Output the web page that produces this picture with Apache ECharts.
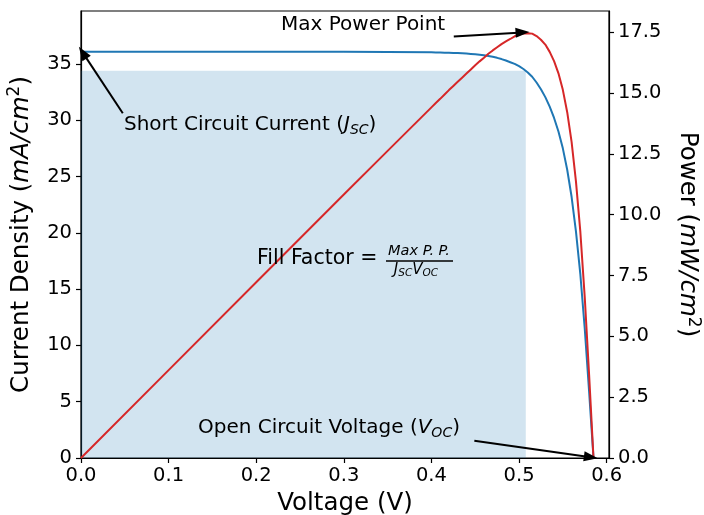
<!DOCTYPE html>
<html>
<head>
<meta charset="utf-8">
<script src="https://cdn.jsdelivr.net/npm/echarts@6/dist/echarts.min.js"></script>
<style>
html,body{margin:0;padding:0;background:#fff;}
#chart{width:704px;height:515px;}
</style>
</head>
<body>
<div id="chart"></div>
<script>
// ---- data ----
const voltage = [0, 0.1, 0.2, 0.3, 0.35, 0.40, 0.405, 0.41, 0.415, 0.42, 0.425, 0.43, 0.435, 0.44, 0.445, 0.45, 0.455, 0.46, 0.465, 0.47, 0.475, 0.48, 0.485, 0.49, 0.495, 0.50, 0.505, 0.51, 0.515, 0.52, 0.525, 0.53, 0.535, 0.54, 0.545, 0.55, 0.555, 0.56, 0.565, 0.57, 0.575, 0.58, 0.585];
const currentDensity = [36.09, 36.09, 36.09, 36.08, 36.06, 36.03, 36.02, 36.01, 36.00, 35.99, 35.98, 35.96, 35.94, 35.92, 35.89, 35.86, 35.82, 35.77, 35.71, 35.63, 35.54, 35.43, 35.30, 35.15, 35.00, 34.80, 34.55, 34.24, 33.86, 33.35, 32.75, 32.05, 31.20, 30.20, 29.00, 27.50, 25.60, 23.20, 20.10, 16.30, 11.50, 5.90, 0];
const power = [0, 3.61, 7.22, 10.83, 12.62, 14.41, 14.59, 14.76, 14.94, 15.12, 15.29, 15.46, 15.63, 15.80, 15.97, 16.14, 16.30, 16.45, 16.61, 16.75, 16.88, 17.01, 17.12, 17.22, 17.33, 17.40, 17.45, 17.46, 17.44, 17.34, 17.19, 16.99, 16.69, 16.31, 15.81, 15.13, 14.21, 12.99, 11.36, 9.29, 6.61, 3.42, 0];
const mppVoltage = 0.5077;
const mppCurrent = 34.4;
const xTicks = [0, 0.1, 0.2, 0.3, 0.4, 0.5, 0.6];
const currentTicks = [0, 5, 10, 15, 20, 25, 30, 35];
const powerTicks = [0, 2.5, 5, 7.5, 10, 12.5, 15, 17.5];
const xMax = 0.6027, currentMax = 39.7, powerMax = 18.37;
// annotation arrows (tail, head) in data units
const arrowJsc = [[0.0477, 30.62], [0.002, 36.0]];
const arrowVoc = [[0.449, 1.53], [0.582, 0.07]];
const arrowMpp = [[0.4255, 17.32], [0.504, 17.49]];

const FONT = 'DejaVu Sans';
const chart = echarts.init(document.getElementById('chart'), null, {renderer: 'canvas'});
const pairs = (ys) => voltage.map((v, i) => [v, ys[i]]);

const arrowStyle = {
  silent: true,
  symbol: ['none', 'triangle'],
  symbolSize: [10, 14],
  label: {show: false},
  lineStyle: {color: '#000', width: 2, type: 'solid'},
  emphasis: {disabled: true}
};
const mkArrow = (a) => [{coord: a[0]}, {coord: a[1]}];

const axisCommon = {
  type: 'value',
  splitLine: {show: false},
  axisLine: {show: true, onZero: false, lineStyle: {color: '#000', width: 1.2}},
  axisTick: {show: true, length: 5, inside: false, lineStyle: {color: '#000', width: 1.2}},
};

const option = {
  animation: false,
  backgroundColor: '#fff',
  grid: {left: 81, right: 95, top: 11, bottom: 57, containLabel: false, outerBoundsMode: 'none',
         show: true, borderColor: '#000', borderWidth: 1.2, backgroundColor: 'transparent'},
  xAxis: Object.assign({}, axisCommon, {
    min: 0, max: xMax,
    name: 'Voltage (V)', nameLocation: 'middle', nameGap: 29,
    nameTextStyle: {fontFamily: FONT, fontSize: 24.5, color: '#000'},
    axisTick: Object.assign({}, axisCommon.axisTick, {customValues: xTicks}),
    axisLabel: {customValues: xTicks, formatter: v => v.toFixed(1), fontFamily: FONT, fontSize: 19.5, color: '#000', margin: 8}
  }),
  yAxis: [
    Object.assign({}, axisCommon, {
      min: 0, max: currentMax, position: 'left',
      name: 'Current Density ({i|mA/cm}{sup|2})', nameLocation: 'middle', nameGap: 30,
      nameTextStyle: {fontFamily: FONT, fontSize: 24.5, color: '#000', lineHeight: 30,
        rich: {i: {fontFamily: FONT, fontSize: 24.5, fontStyle: 'italic', color: '#000', lineHeight: 30},
               sup: {fontFamily: FONT, fontSize: 17, color: '#000', verticalAlign: 'top', lineHeight: 17}}},
      axisTick: Object.assign({}, axisCommon.axisTick, {customValues: currentTicks}),
      axisLabel: {customValues: currentTicks, formatter: v => String(v), fontFamily: FONT, fontSize: 19.5, color: '#000', margin: 9}
    }),
    Object.assign({}, axisCommon, {
      min: 0, max: powerMax, position: 'right',
      name: 'Power ({i|mW/cm}{sup|2})', nameLocation: 'middle', nameGap: 62, nameRotate: -90,
      nameTextStyle: {fontFamily: FONT, fontSize: 24.5, color: '#000', lineHeight: 30,
        rich: {i: {fontFamily: FONT, fontSize: 24.5, fontStyle: 'italic', color: '#000', lineHeight: 30},
               sup: {fontFamily: FONT, fontSize: 17, color: '#000', verticalAlign: 'top', lineHeight: 17}}},
      axisTick: Object.assign({}, axisCommon.axisTick, {customValues: powerTicks}),
      axisLabel: {customValues: powerTicks, formatter: v => v.toFixed(1), fontFamily: FONT, fontSize: 19.5, color: '#000', margin: 9}
    })
  ],
  series: [
    {
      name: 'Current Density', type: 'line', yAxisIndex: 0, data: pairs(currentDensity),
      showSymbol: false, symbol: 'none', smooth: false,
      lineStyle: {color: '#1f77b4', width: 2}, z: 3,
      markArea: {silent: true, itemStyle: {color: 'rgba(31,119,180,0.2)'},
        data: [[{coord: [0, 0]}, {coord: [mppVoltage, mppCurrent]}]]},
      markLine: Object.assign({}, arrowStyle, {data: [mkArrow(arrowJsc), mkArrow(arrowVoc)], z: 10})
    },
    {
      name: 'Power', type: 'line', yAxisIndex: 1, data: pairs(power),
      showSymbol: false, symbol: 'none', smooth: false,
      lineStyle: {color: '#d62728', width: 2}, z: 4,
      markLine: Object.assign({}, arrowStyle, {data: [mkArrow(arrowMpp)], z: 10})
    }
  ],
  graphic: [
    {type: 'text', z: 100, style: {x: 281, y: 25, text: 'Max Power Point', fontFamily: FONT, fontSize: 20, fill: '#000', verticalAlign: 'middle'}},
    {type: 'text', z: 100, style: {x: 124, y: 125, text: 'Short Circuit Current ({i|J}{sub|SC})', fontFamily: FONT, fontSize: 20, fill: '#000', verticalAlign: 'middle', lineHeight: 24,
      rich: {i: {fontFamily: FONT, fontSize: 20, fontStyle: 'italic', fill: '#000', lineHeight: 24}, sub: {fontFamily: FONT, fontSize: 14, fontStyle: 'italic', fill: '#000', verticalAlign: 'bottom', lineHeight: 14}}}},
    {type: 'text', z: 100, style: {x: 198, y: 428, text: 'Open Circuit Voltage ({i|V}{sub|OC})', fontFamily: FONT, fontSize: 20, fill: '#000', verticalAlign: 'middle', lineHeight: 24,
      rich: {i: {fontFamily: FONT, fontSize: 20, fontStyle: 'italic', fill: '#000', lineHeight: 24}, sub: {fontFamily: FONT, fontSize: 14, fontStyle: 'italic', fill: '#000', verticalAlign: 'bottom', lineHeight: 14}}}},
    {type: 'text', z: 100, style: {x: 257, y: 259, text: 'Fill Factor =', fontFamily: FONT, fontSize: 20.5, fill: '#000', verticalAlign: 'middle'}},
    {type: 'text', z: 100, style: {x: 419, y: 251, text: 'Max P. P.', fontFamily: FONT, fontSize: 14.5, fontStyle: 'italic', fill: '#000', align: 'center', verticalAlign: 'middle'}},
    {type: 'line', z: 100, shape: {x1: 386, y1: 261, x2: 453, y2: 261}, style: {stroke: '#000', lineWidth: 1.3}},
    {type: 'text', z: 100, style: {x: 416, y: 270, text: '{i|J}{sub|SC}{i|V}{sub|OC}', fontFamily: FONT, fontSize: 15, fill: '#000', align: 'center', verticalAlign: 'middle', lineHeight: 18,
      rich: {i: {fontFamily: FONT, fontSize: 15, fontStyle: 'italic', fill: '#000', lineHeight: 18}, sub: {fontFamily: FONT, fontSize: 10.5, fontStyle: 'italic', fill: '#000', verticalAlign: 'bottom', lineHeight: 11}}}}
  ]
};
chart.setOption(option);
</script>
</body>
</html>
